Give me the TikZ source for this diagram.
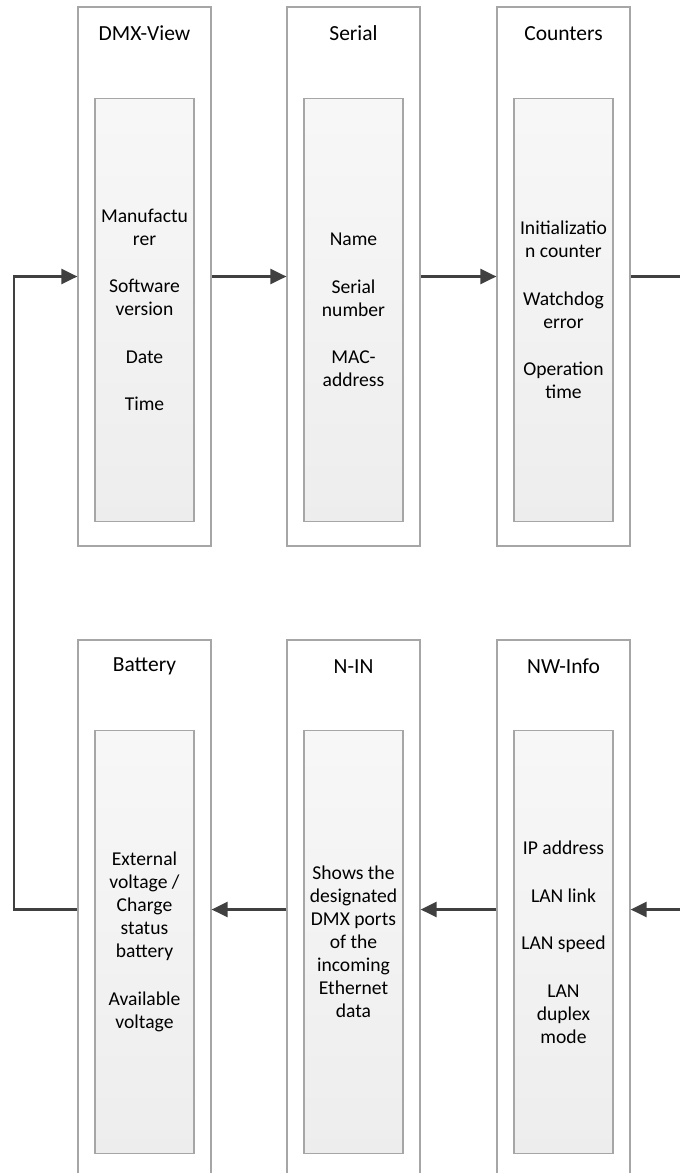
\documentclass[tikz,border=0pt]{standalone}
\usepackage{fontspec}
\setmainfont{Carlito}
\usetikzlibrary{arrows.meta}
\usetikzlibrary{calc}

\definecolor{linegray}{HTML}{404040}
\definecolor{boxgray}{HTML}{A6A6A6}

\begin{document}
\begin{tikzpicture}[x=1pt,y=-1pt,
        outer/.style={draw=boxgray,line width=1.2pt,minimum width=133pt,minimum height=539pt,inner sep=0pt},
        inner/.style={draw=boxgray,line width=1.2pt,top color=white!97!black,bottom color=white!93!black,
            minimum width=99pt,minimum height=423pt,inner sep=0pt,align=center,
            font=\fontsize{19.6}{23}\selectfont},
        title/.style={font=\fontsize{21.5}{25}\selectfont,inner sep=0pt}]
        \clip (0,0) rectangle (680,1173);

        \node[outer] (view)  at (144.5,276.5) {};
        \node[outer] (ser)   at (353.5,276.5) {};
        \node[outer] (count) at (563.5,276.5) {};
        \node[outer] (bat)   at (144.5,909.5) {};
        \node[outer] (nin)   at (353.5,909.5) {};
        \node[outer] (nw)    at (563.5,909.5) {};

        \node[title] (viewt)  at ($(view.north)+(0,27)$)  {DMX-View};
        \node[title] (sert)   at ($(ser.north)+(0,27)$)   {Serial};
        \node[title] (countt) at ($(count.north)+(0,27)$) {Counters};
        \node[title] (batt)   at ($(bat.north)+(0,27)$)   {Battery};
        \node[title] (nint)   at ($(nin.north)+(0,27)$)   {N-IN};
        \node[title] (nwt)    at ($(nw.north)+(0,27)$)    {NW-Info};

        \node[inner] (viewin)  at (144.5,310) {Manufactu\\rer\\[24.5pt]Software\\version\\[24.5pt]Date\\[24.5pt]Time};
        \node[inner] (serin)   at (353.5,310) {Name\\[24.5pt]Serial\\number\\[24.5pt]MAC-\\address};
        \node[inner] (countin) at (563.5,310) {Initializatio\\n counter\\[24.5pt]Watchdog\\error\\[24.5pt]Operation\\time};
        \node[inner] (batin)   at (144.5,942) {External\\voltage /\\Charge\\status\\battery\\[24.5pt]Available\\voltage};
        \node[inner] (ninin)   at (353.5,942) {Shows the\\designated\\DMX ports\\of the\\incoming\\Ethernet\\data};
        \node[inner] (nwin)    at (563.5,942) {IP address\\[24.5pt]LAN link\\[24.5pt]LAN speed\\[24.5pt]LAN\\duplex\\mode};

        \coordinate (rtop) at (680,276.5);
        \coordinate (rbot) at (680,909.5);
        \coordinate (loop) at (14,909.5);

        \begin{scope}[>={Triangle[length=16pt,width=15pt]},
                every path/.style={draw=linegray,line width=2.4pt}]
            \draw [->] (view)  -- (ser);
            \draw [->] (ser)   -- (count);
            \draw      (count) -- (rtop);
            \draw [->] (rbot)  -- (nw);
            \draw [->] (nw)    -- (nin);
            \draw [->] (nin)   -- (bat);
            \draw [->] (bat)   -- (loop) |- (view);
        \end{scope}
    \end{tikzpicture}
\end{document}
